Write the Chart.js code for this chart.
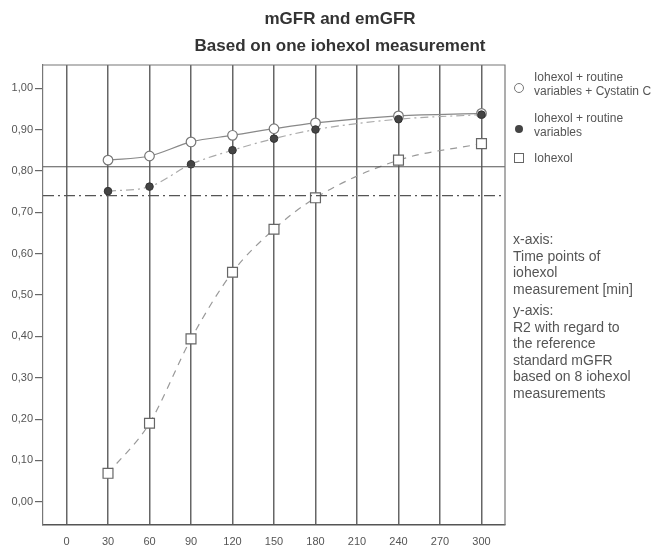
<!DOCTYPE html>
<html>
<head>
<meta charset="utf-8">
<script src="https://cdn.jsdelivr.net/npm/chart.js@4/dist/chart.umd.min.js"></script>
<style>
  html, body { margin: 0; padding: 0; background: #fff; }
  #wrap { position: relative; width: 661px; height: 546px; font-family: "Liberation Sans", Arial, sans-serif; }
  #c { position: absolute; left: 0; top: 0; }
  .title { position: absolute; left: 190px; width: 300px; text-align: center; font-weight: bold; font-size: 17px; color: #333; white-space: nowrap; }
  .leg { position: absolute; left: 534px; font-size: 12px; line-height: 14px; color: #555; white-space: nowrap; }
  .mk { position: absolute; box-sizing: border-box; }
  .note { position: absolute; left: 513px; font-size: 14px; line-height: 16.6px; color: #555; white-space: nowrap; }
</style>
</head>
<body>
<div id="wrap">
  <canvas id="c" width="661" height="546"></canvas>
  <div class="title" style="top:9px">mGFR and emGFR</div>
  <div class="title" style="top:36px">Based on one iohexol measurement</div>

  <div class="mk" style="left:514px;top:83px;width:10px;height:10px;border:1.3px solid #777;border-radius:50%"></div>
  <div class="leg" style="top:70px">Iohexol + routine<br>variables + Cystatin C</div>
  <div class="mk" style="left:515px;top:125px;width:8px;height:8px;background:#444;border-radius:50%"></div>
  <div class="leg" style="top:111px">Iohexol + routine<br>variables</div>
  <div class="mk" style="left:514px;top:153px;width:10px;height:10px;border:1.3px solid #666"></div>
  <div class="leg" style="top:151px">Iohexol</div>

  <div class="note" style="top:231px">x-axis:<br>Time points of<br>iohexol<br>measurement [min]</div>
  <div class="note" style="top:302px">y-axis:<br>R2 with regard to<br>the reference<br>standard mGFR<br>based on 8 iohexol<br>measurements</div>
</div>
<script>
// time points of iohexol measurement [min]
const timePoints = [30, 60, 90, 120, 150, 180, 240, 300];

// R2 values
const cystatinR2 = [0.826, 0.836, 0.870, 0.886, 0.902, 0.916, 0.933, 0.939];
const routineR2  = [0.751, 0.762, 0.816, 0.850, 0.878, 0.900, 0.925, 0.936];
const iohexolR2  = [0.069, 0.190, 0.394, 0.555, 0.659, 0.735, 0.826, 0.866];

// horizontal reference lines
const refSolid = 0.81;
const refDashDot = 0.74;

const xTicks = [0, 30, 60, 90, 120, 150, 180, 210, 240, 270, 300];
const yTicks = [0, 0.1, 0.2, 0.3, 0.4, 0.5, 0.6, 0.7, 0.8, 0.9, 1.0];
const xMin = -17, xMax = 317;
const yMin = -0.056, yMax = 1.056;

const pts = (ys) => timePoints.map((x, i) => ({ x, y: ys[i] }));
const hline = (y) => [{ x: xMin, y }, { x: xMax, y }];

// top + right frame of the plot box
const frame = {
  id: "frame",
  afterDraw(chart) {
    const { ctx, chartArea: a } = chart;
    ctx.save();
    ctx.strokeStyle = "#777";
    ctx.lineWidth = 1.2;
    ctx.beginPath();
    ctx.moveTo(a.left, a.top);
    ctx.lineTo(a.right, a.top);
    ctx.lineTo(a.right, a.bottom);
    ctx.stroke();
    ctx.restore();
  }
};

new Chart(document.getElementById("c"), {
  type: "line",
  data: {
    datasets: [
      { label: "ref solid", data: hline(refSolid), borderColor: "#555", borderWidth: 1.2, pointRadius: 0 },
      { label: "ref dashdot", data: hline(refDashDot), borderColor: "#555", borderWidth: 1.2, borderDash: [11, 4, 2, 4], pointRadius: 0 },
      {
        label: "Iohexol", data: pts(iohexolR2),
        borderColor: "#999", borderWidth: 1.2, borderDash: [7, 6], cubicInterpolationMode: "monotone",
        pointStyle: "rect", pointRadius: 7, pointBorderColor: "#666", pointBorderWidth: 1.2, pointBackgroundColor: "#fff"
      },
      {
        label: "Iohexol + routine variables", data: pts(routineR2),
        borderColor: "#aaa", borderWidth: 1.2, borderDash: [8, 4, 2, 4], cubicInterpolationMode: "monotone",
        pointRadius: 3.8, pointBorderColor: "#333", pointBorderWidth: 1, pointBackgroundColor: "#444"
      },
      {
        label: "Iohexol + routine variables + Cystatin C", data: pts(cystatinR2),
        borderColor: "#888", borderWidth: 1.2, cubicInterpolationMode: "monotone",
        pointRadius: 4.8, pointBorderColor: "#777", pointBorderWidth: 1.2, pointBackgroundColor: "#fff"
      }
    ]
  },
  options: {
    responsive: false,
    animation: false,
    layout: { padding: { left: 0, top: 65, right: 156, bottom: 0 } },
    plugins: { legend: { display: false }, tooltip: { enabled: false }, title: { display: false } },
    scales: {
      x: {
        type: "linear", min: xMin, max: xMax,
        afterBuildTicks: (s) => { s.ticks = xTicks.map(v => ({ value: v })); },
        afterFit: (s) => { s.height = 21; },
        grid: { drawOnChartArea: true, drawTicks: false, color: "#666", lineWidth: 1.5 },
        border: { display: true, color: "#555", width: 1.5 },
        ticks: { padding: 10, color: "#555", font: { family: "Liberation Sans, Arial, sans-serif", size: 11 }, maxRotation: 0 }
      },
      y: {
        type: "linear", min: yMin, max: yMax,
        afterBuildTicks: (s) => { s.ticks = yTicks.map(v => ({ value: v })); },
        afterFit: (s) => { s.width = 43; },
        grid: { drawOnChartArea: false, drawTicks: true, tickLength: 8, color: "#666", lineWidth: 1.2 },
        border: { display: true, color: "#777", width: 1.2 },
        ticks: {
          padding: 2, color: "#555", font: { family: "Liberation Sans, Arial, sans-serif", size: 11 },
          callback: (v) => v.toFixed(2).replace(".", ",")
        }
      }
    }
  },
  plugins: [frame]
});
</script>
</body>
</html>
